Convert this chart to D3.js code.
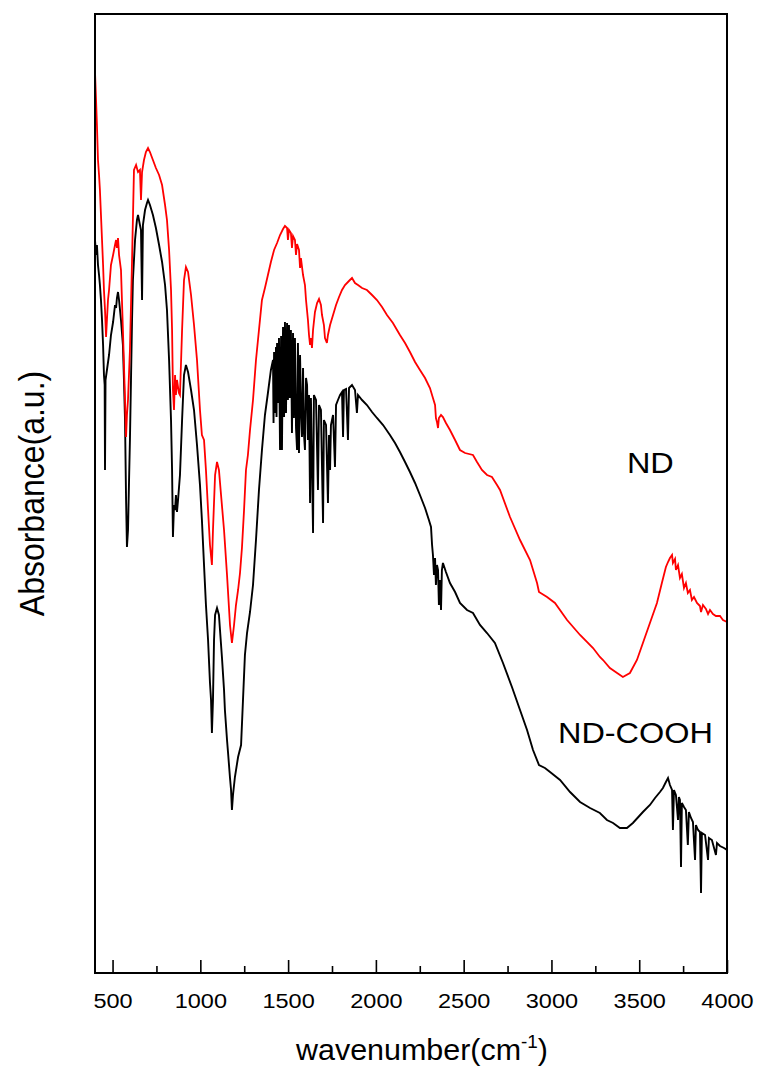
<!DOCTYPE html>
<html>
<head>
<meta charset="utf-8">
<script src="https://cdn.jsdelivr.net/npm/d3@7"></script>
<style>
  html, body { margin: 0; padding: 0; background: #fff; }
  svg { display: block; }
  text { font-family: "Liberation Sans", Arial, sans-serif; fill: #000; }
</style>
</head>
<body>
<svg id="chart" width="763" height="1077"></svg>
<script>
// FTIR spectra: [wavenumber (cm-1), absorbance (a.u.)]
const ndSpectrum = [
  [400,0.901],[406,0.873],[411,0.848],[417,0.813],[423,0.798],[428,0.783],[434,0.758],[440,0.733],
  [446,0.708],[451,0.683],[457,0.663],[463,0.636],[468,0.653],[474,0.673],[480,0.683],[491,0.708],
  [503,0.718],[514,0.728],[520,0.733],[525,0.725],[531,0.735],[537,0.718],[548,0.703],[559,0.643],
  [571,0.573],[577,0.536],[582,0.558],[588,0.573],[599,0.623],[611,0.713],[622,0.803],[634,0.808],
  [645,0.801],[656,0.803],[662,0.773],[668,0.801],[679,0.813],[690,0.821],[702,0.825],[713,0.821],
  [730,0.813],[747,0.805],[765,0.798],[782,0.788],[799,0.768],[810,0.753],[822,0.723],[833,0.683],
  [839,0.643],[844,0.583],[850,0.563],[856,0.598],[861,0.578],[867,0.593],[878,0.580],[884,0.578],
  [896,0.643],[907,0.693],[918,0.706],[930,0.701],[947,0.678],[964,0.648],[981,0.613],[998,0.563],
  [1009,0.538],[1021,0.533],[1032,0.503],[1044,0.463],[1055,0.428],[1066,0.408],[1072,0.443],[1084,0.498],
  [1095,0.511],[1106,0.503],[1118,0.478],[1135,0.443],[1152,0.398],[1169,0.348],[1180,0.330],[1192,0.348],
  [1203,0.368],[1215,0.383],[1226,0.400],[1237,0.425],[1249,0.463],[1260,0.503],[1271,0.518],[1283,0.543],
  [1300,0.573],[1317,0.613],[1334,0.643],[1351,0.673],[1368,0.685],[1385,0.698],[1402,0.711],[1420,0.723],
  [1437,0.730],[1454,0.738],[1471,0.744],[1482,0.747],[1494,0.745],[1499,0.733],[1505,0.743],[1516,0.740],
  [1522,0.725],[1528,0.737],[1539,0.733],[1545,0.718],[1551,0.729],[1562,0.723],[1568,0.705],[1573,0.715],
  [1585,0.698],[1596,0.688],[1602,0.673],[1613,0.653],[1619,0.638],[1625,0.628],[1630,0.635],[1636,0.625],
  [1642,0.643],[1653,0.661],[1665,0.670],[1676,0.674],[1687,0.668],[1693,0.658],[1704,0.648],[1710,0.635],
  [1721,0.630],[1727,0.638],[1739,0.648],[1756,0.658],[1773,0.668],[1790,0.676],[1807,0.683],[1824,0.688],
  [1841,0.691],[1852,0.693],[1864,0.695],[1881,0.690],[1898,0.688],[1921,0.685],[1949,0.683],[1978,0.678],
  [2006,0.673],[2035,0.666],[2063,0.658],[2097,0.650],[2137,0.638],[2166,0.630],[2194,0.621],[2223,0.611],
  [2251,0.603],[2280,0.595],[2308,0.585],[2325,0.575],[2337,0.568],[2342,0.555],[2348,0.551],[2354,0.545],
  [2359,0.555],[2371,0.558],[2382,0.556],[2399,0.550],[2422,0.543],[2451,0.533],[2479,0.523],[2508,0.520],
  [2553,0.518],[2576,0.511],[2604,0.503],[2633,0.498],[2661,0.496],[2690,0.488],[2707,0.483],[2764,0.456],
  [2821,0.433],[2878,0.413],[2918,0.390],[2929,0.381],[2975,0.376],[3020,0.370],[3089,0.353],[3163,0.338],
  [3237,0.325],[3276,0.316],[3294,0.313],[3333,0.305],[3374,0.300],[3407,0.296],[3447,0.300],[3487,0.313],
  [3521,0.330],[3561,0.350],[3601,0.370],[3629,0.390],[3652,0.406],[3664,0.411],[3675,0.415],[3687,0.418],
  [3692,0.410],[3704,0.414],[3709,0.403],[3721,0.408],[3732,0.395],[3743,0.399],[3755,0.385],[3766,0.390],
  [3777,0.380],[3789,0.383],[3800,0.373],[3812,0.376],[3829,0.370],[3846,0.367],[3852,0.361],[3863,0.368],
  [3880,0.364],[3892,0.359],[3903,0.363],[3920,0.359],[3937,0.357],[3960,0.357],[3977,0.353],[4000,0.351]
];

const ndCoohSpectrum = [
  [400,0.733],[406,0.718],[411,0.728],[417,0.708],[423,0.698],[428,0.688],[434,0.673],[440,0.653],
  [446,0.628],[451,0.598],[455,0.588],[457,0.503],[460,0.593],[468,0.603],[480,0.618],[491,0.638],
  [503,0.651],[514,0.668],[520,0.665],[525,0.675],[531,0.681],[537,0.673],[548,0.653],[559,0.628],
  [565,0.593],[571,0.553],[577,0.473],[582,0.426],[588,0.443],[594,0.493],[599,0.533],[605,0.593],
  [611,0.653],[616,0.693],[628,0.733],[639,0.753],[645,0.758],[656,0.748],[662,0.743],[668,0.673],
  [673,0.748],[685,0.763],[696,0.770],[702,0.773],[713,0.768],[730,0.758],[747,0.745],[765,0.728],
  [782,0.711],[799,0.688],[810,0.663],[822,0.613],[833,0.553],[839,0.503],[844,0.436],[850,0.468],
  [856,0.463],[861,0.478],[867,0.461],[873,0.473],[884,0.498],[896,0.553],[907,0.598],[918,0.608],
  [930,0.601],[947,0.583],[964,0.563],[981,0.528],[998,0.488],[1009,0.453],[1021,0.408],[1032,0.368],
  [1044,0.333],[1055,0.290],[1061,0.273],[1066,0.240],[1072,0.273],[1078,0.333],[1084,0.358],[1095,0.365],
  [1106,0.358],[1112,0.343],[1123,0.316],[1135,0.283],[1140,0.263],[1152,0.233],[1158,0.220],[1169,0.195],
  [1175,0.183],[1180,0.163],[1186,0.178],[1197,0.196],[1215,0.216],[1232,0.228],[1243,0.273],[1254,0.318],
  [1266,0.340],[1283,0.361],[1300,0.388],[1317,0.433],[1334,0.483],[1351,0.523],[1368,0.558],[1385,0.580],
  [1402,0.603],[1414,0.613],[1417,0.550],[1420,0.621],[1425,0.560],[1431,0.626],[1434,0.556],[1437,0.630],
  [1443,0.570],[1448,0.635],[1454,0.523],[1460,0.637],[1465,0.523],[1471,0.646],[1477,0.556],[1482,0.651],
  [1488,0.560],[1494,0.650],[1499,0.573],[1505,0.648],[1510,0.575],[1516,0.643],[1522,0.540],[1528,0.640],
  [1533,0.555],[1539,0.635],[1545,0.545],[1551,0.523],[1556,0.630],[1562,0.520],[1568,0.618],[1574,0.560],
  [1579,0.536],[1585,0.605],[1590,0.540],[1596,0.523],[1602,0.595],[1608,0.588],[1613,0.533],[1619,0.578],
  [1625,0.470],[1630,0.575],[1642,0.440],[1647,0.578],[1659,0.573],[1670,0.483],[1676,0.568],[1687,0.563],
  [1699,0.450],[1704,0.553],[1716,0.548],[1727,0.470],[1733,0.538],[1739,0.503],[1744,0.548],[1756,0.558],
  [1767,0.506],[1773,0.568],[1784,0.573],[1796,0.578],[1807,0.581],[1813,0.536],[1818,0.583],[1830,0.584],
  [1841,0.533],[1847,0.585],[1864,0.588],[1881,0.583],[1892,0.560],[1898,0.578],[1921,0.573],[1949,0.568],
  [1978,0.561],[2006,0.555],[2041,0.548],[2080,0.538],[2109,0.530],[2137,0.521],[2166,0.511],[2194,0.501],
  [2223,0.490],[2251,0.478],[2280,0.465],[2302,0.453],[2314,0.446],[2320,0.428],[2325,0.418],[2331,0.398],
  [2337,0.415],[2342,0.388],[2348,0.408],[2354,0.403],[2359,0.368],[2365,0.393],[2371,0.363],[2376,0.403],
  [2382,0.410],[2399,0.401],[2422,0.390],[2451,0.381],[2479,0.370],[2519,0.363],[2553,0.360],[2593,0.348],
  [2633,0.340],[2678,0.330],[2724,0.310],[2775,0.286],[2821,0.263],[2861,0.243],[2895,0.223],[2929,0.208],
  [2963,0.205],[2992,0.201],[3049,0.193],[3106,0.181],[3163,0.171],[3220,0.165],[3276,0.160],[3316,0.153],
  [3351,0.150],[3390,0.145],[3430,0.145],[3464,0.150],[3521,0.161],[3561,0.168],[3590,0.175],[3618,0.181],
  [3635,0.185],[3652,0.191],[3664,0.195],[3675,0.188],[3687,0.183],[3692,0.143],[3698,0.183],[3709,0.178],
  [3721,0.153],[3726,0.176],[3732,0.173],[3738,0.106],[3743,0.170],[3755,0.166],[3766,0.163],[3777,0.128],
  [3783,0.161],[3795,0.155],[3806,0.151],[3818,0.113],[3823,0.148],[3835,0.143],[3846,0.141],[3852,0.080],
  [3857,0.140],[3875,0.138],[3892,0.113],[3897,0.135],[3914,0.133],[3937,0.118],[3943,0.130],[3960,0.127],
  [3983,0.125],[4000,0.123]
];

const majorTicks = [500, 1000, 1500, 2000, 2500, 3000, 3500, 4000];
const minorTicks = [750, 1250, 1750, 2250, 2750, 3250, 3750];
const seriesLabels = [
  { name: "ND", at: [3430, 0.500] },
  { name: "ND-COOH", at: [3037, 0.230] }
];

const svg = d3.select("#chart");
const W = 763, H = 1077;
const margin = { left: 95, right: 36, top: 14, bottom: 104 };
const plotW = W - margin.left - margin.right;
const plotH = H - margin.top - margin.bottom;

const x = d3.scaleLinear().domain([400, 4000]).range([margin.left, margin.left + plotW]);
const y = d3.scaleLinear().domain([0, 0.959]).range([margin.top + plotH, margin.top]);

svg.append("rect").attr("width", W).attr("height", H).attr("fill", "#fff");

svg.append("clipPath").attr("id", "plotClip")
  .append("rect")
  .attr("x", margin.left).attr("y", margin.top)
  .attr("width", plotW).attr("height", plotH);

const line = d3.line().x(d => x(d[0])).y(d => y(d[1]));

const plot = svg.append("g").attr("clip-path", "url(#plotClip)");
plot.append("path").datum(ndCoohSpectrum)
  .attr("d", line).attr("fill", "none")
  .attr("stroke", "#000").attr("stroke-width", 1.9);
plot.append("path").datum(ndSpectrum)
  .attr("d", line).attr("fill", "none")
  .attr("stroke", "#ff0000").attr("stroke-width", 1.8);

// bottom axis with inward major and minor ticks
const axisY = margin.top + plotH;
const xAxis = svg.append("g").attr("transform", `translate(0,${axisY})`)
  .call(d3.axisBottom(x).tickValues(majorTicks).tickSizeInner(-13).tickSizeOuter(0)
        .tickPadding(20).tickFormat(d3.format("d")));
xAxis.select(".domain").remove();
xAxis.selectAll(".tick line").attr("stroke", "#000").attr("stroke-width", 1.6);
xAxis.selectAll(".tick text")
  .attr("font-size", 21)
  .attr("font-family", "Liberation Sans, Arial, sans-serif")
  .attr("transform", "scale(1.12,1)");

const xMinor = svg.append("g").attr("transform", `translate(0,${axisY})`)
  .call(d3.axisBottom(x).tickValues(minorTicks).tickSizeInner(-7).tickSizeOuter(0).tickFormat(""));
xMinor.select(".domain").remove();
xMinor.selectAll(".tick line").attr("stroke", "#000").attr("stroke-width", 1.6);

// frame
svg.append("rect")
  .attr("x", margin.left).attr("y", margin.top)
  .attr("width", plotW).attr("height", plotH)
  .attr("fill", "none").attr("stroke", "#000").attr("stroke-width", 2);

// axis titles
const xTitle = svg.append("g")
  .attr("transform", `translate(422,1060)`)
  .append("text")
  .attr("text-anchor", "middle")
  .attr("font-size", 29)
  .attr("transform", "scale(1.05,1)");
xTitle.append("tspan").text("wavenumber(cm");
xTitle.append("tspan").attr("font-size", 18).attr("dy", -12).text("-1");
xTitle.append("tspan").attr("dy", 12).text(")");

svg.append("text")
  .attr("transform", `translate(44,${margin.top + plotH / 2}) rotate(-90) scale(1,1.1)`)
  .attr("text-anchor", "middle")
  .attr("font-size", 32)
  .text("Absorbance(a.u.)");

// curve labels
svg.selectAll(".series-label").data(seriesLabels).join("g")
  .attr("class", "series-label")
  .attr("transform", d => `translate(${x(d.at[0])},${y(d.at[1])})`)
  .append("text")
  .attr("font-size", 29)
  .attr("transform", "scale(1.12,1)")
  .text(d => d.name);
</script>
</body>
</html>
